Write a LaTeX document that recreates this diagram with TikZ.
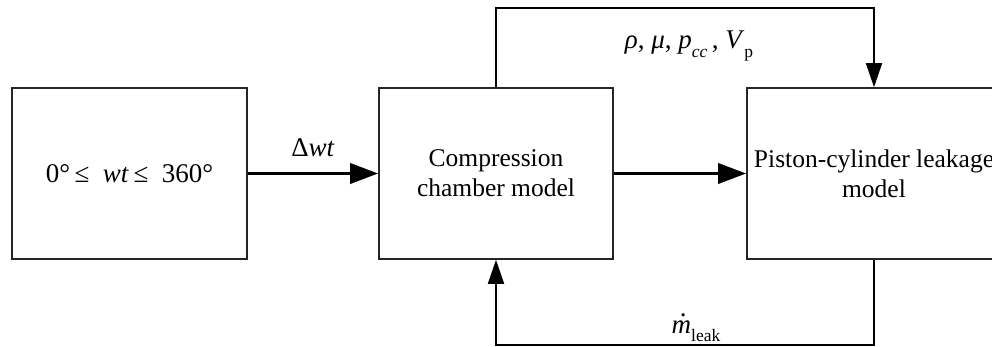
\documentclass[tikz,border=0pt]{standalone}
\usepackage{fontspec}
\setmainfont{Liberation Serif}
\usetikzlibrary{arrows.meta}
\newcommand{\subtxt}[1]{\raisebox{-0.3em}{\fontsize{17.5}{18}\selectfont #1}}
\begin{document}
\begin{tikzpicture}[x=1pt,y=-1pt,
  blockbox/.style={draw=black!85, line width=1.6pt, minimum height=171pt, inner sep=0pt,
    align=center, font=\fontsize{25.5}{30}\selectfont},
  mainflow/.style={line width=3.6pt, -{Triangle[length=28pt,width=20pt]}},
  sideflow/.style={line width=1.8pt, -{Triangle[length=24pt,width=16pt]}},
  lbl/.style={font=\fontsize{27}{30}\selectfont, inner sep=0pt}]
  \useasboundingbox (0,0) rectangle (992,347);
  \clip (0,0) rectangle (992,347);

  % blocks
  \node[blockbox, minimum width=235pt, font=\fontsize{27}{30}\selectfont] (src) at (129.5,173.5)
    {0°\,≤\ \ \textit{wt}\,≤\ \ 360°};
  \node[blockbox, minimum width=234pt] (ccm) at (496,173.5)
    {Compression\\chamber model};
  \node[blockbox, minimum width=254pt] (pcl) at (874,173.5)
    {Piston-cylinder leakage\\model};

  % feedback routing levels
  \coordinate (topline) at (0,8);
  \coordinate (botline) at (0,345);

  % forward flow
  \draw[mainflow] (src.east) -- (ccm.west);
  \draw[mainflow] (ccm.east) -- (pcl.west);

  % property transfer and leakage feedback
  \draw[sideflow] (ccm.north) -- (ccm.north |- topline) -| (pcl.north);
  \draw[sideflow] (pcl.south) -- (pcl.south |- botline) -| (ccm.south);

  % labels
  \node[lbl] (dwt) at (313,148) {Δ\textit{wt}};
  \node[lbl] (props) at (689,46)
    {\textit{ρ}, \textit{μ}, \textit{p}\subtxt{\textit{cc}}\,, \textit{V}\subtxt{p}};
  \node[lbl] (mleak) at (696,328)
    {\makebox[0pt][l]{\hspace{0.30em}\raisebox{0.62em}{.}}\textit{m}\subtxt{leak}};
\end{tikzpicture}
\end{document}
